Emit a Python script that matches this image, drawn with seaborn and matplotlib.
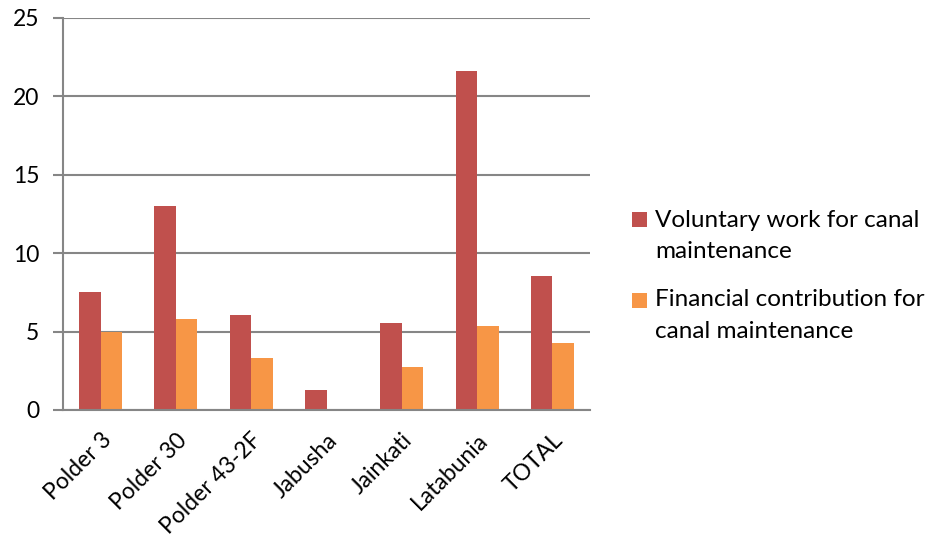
import matplotlib
matplotlib.use("Agg")
import matplotlib.pyplot as plt
from matplotlib.patches import Rectangle
import numpy as np
import pandas as pd
import seaborn as sns

categories = ["Polder 3", "Polder 30", "Polder 43-2F", "Jabusha", "Jainkati", "Latabunia", "TOTAL"]
voluntary = [7.5, 13.0, 6.05, 1.25, 5.55, 21.6, 8.55]
financial = [5.0, 5.83, 3.3, 0.0, 2.77, 5.36, 4.26]
series_names = ["Voluntary work for canal maintenance",
                "Financial contribution for canal maintenance"]
legend_lines = [["Voluntary work for canal", "maintenance"],
                ["Financial contribution for", "canal maintenance"]]
colors = ["#C0504D", "#F79646"]
y_ticks = [0, 5, 10, 15, 20, 25]

df = pd.DataFrame({
    "category": categories * 2,
    "value": voluntary + financial,
    "series": [series_names[0]] * len(categories) + [series_names[1]] * len(categories),
})

sns.set_theme(style="white")
plt.rcParams["font.family"] = ["Lato", "DejaVu Sans"]
FS = 16.5
LEG_FS = 17.5
W, H = 930, 542

fig = plt.figure(figsize=(W / 100, H / 100), dpi=100)
ax = fig.add_axes([63 / W, 132 / H, 527 / W, 392 / H])

sns.barplot(data=df, x="category", y="value", hue="series", order=categories,
            hue_order=series_names, palette=colors, width=0.57, gap=0,
            saturation=1, linewidth=0, ax=ax, legend=False)

grid_color = "#868686"
ax.set_ylim(0, 25)
ax.set_xlim(-0.5, len(categories) - 0.5)
ax.set_yticks(y_ticks)
ax.set_yticklabels([str(t) for t in y_ticks], fontsize=FS, color="#000000")
ax.yaxis.grid(True, color=grid_color, linewidth=1.5)
ax.set_axisbelow(True)

ax.set_xticks(np.arange(len(categories)))
ax.set_xticklabels(categories, rotation=45, ha="right", rotation_mode="anchor",
                   fontsize=FS, color="#000000")
ax.set_xticks(np.arange(len(categories) + 1) - 0.5, minor=True)
ax.tick_params(axis="x", which="major", length=0, pad=14)
ax.tick_params(axis="x", which="minor", length=7, width=1.5, color=grid_color, direction="out")
ax.tick_params(axis="y", which="major", length=7, width=1.5, color=grid_color,
               direction="out", pad=10, left=True)

ax.set_xlabel("")
ax.set_ylabel("")
for side in ["top", "right"]:
    ax.spines[side].set_visible(False)
for side in ["left", "bottom"]:
    ax.spines[side].set_color(grid_color)
    ax.spines[side].set_linewidth(1.5)

# Legend: square beside the first line of each wrapped label
entry_tops = [220, 300]
line_step = 31
for color, lines, y0 in zip(colors, legend_lines, entry_tops):
    fig.add_artist(Rectangle(((632) / W, 1 - (y0 + 7.5) / H), 15 / W, 15 / H,
                             transform=fig.transFigure, facecolor=color,
                             edgecolor="none"))
    for i, line in enumerate(lines):
        fig.text(655 / W, 1 - (y0 + i * line_step) / H, line, fontsize=LEG_FS,
                 ha="left", va="center", color="#000000")

fig.savefig("out.png", dpi=100)
